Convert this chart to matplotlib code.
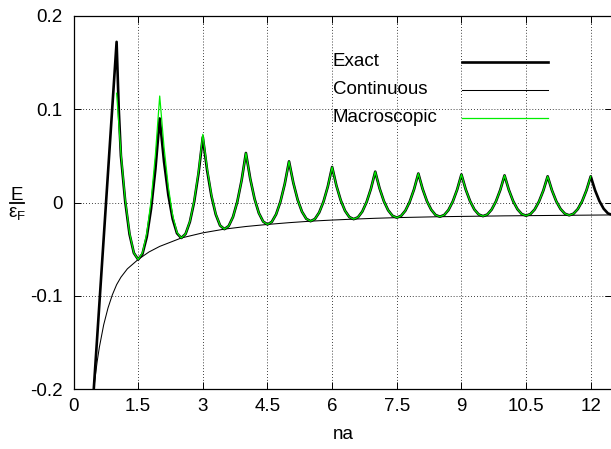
import numpy as np
import matplotlib
matplotlib.use('Agg')
import matplotlib.pyplot as plt
from matplotlib.lines import Line2D

plt.rcParams['font.family'] = ['Liberation Sans', 'DejaVu Sans']
plt.rcParams['mathtext.fontset'] = 'custom'
plt.rcParams['mathtext.rm'] = 'Liberation Sans'
plt.rcParams['mathtext.it'] = 'Liberation Sans'
plt.rcParams['mathtext.sf'] = 'Liberation Sans'

# ---------------- data ----------------
x_ticks = [0, 1.5, 3, 4.5, 6, 7.5, 9, 10.5, 12]
x_tick_labels = ["0", "1.5", "3", "4.5", "6", "7.5", "9", "10.5", "12"]
y_ticks = [-0.2, -0.1, 0, 0.1, 0.2]
y_tick_labels = ["-0.2", "-0.1", "0", "0.1", "0.2"]
series_names = ["Exact", "Continuous", "Macroscopic"]

# Continuous (smooth) curve
cont_x = [0.45, 0.5, 0.55, 0.6, 0.7, 0.8, 0.9, 1.0, 1.1, 1.25, 1.5, 1.75, 2.0,
          2.5, 3.0, 3.5, 4.0, 4.5, 5.0, 5.5, 6.0, 6.5, 7.0, 7.5, 8.0, 8.5,
          9.0, 9.5, 10.0, 10.5, 11.0, 11.5, 12.0, 12.5]
cont_y = [-0.208, -0.188, -0.170, -0.155, -0.131, -0.113, -0.099, -0.088,
          -0.080, -0.071, -0.061, -0.053, -0.047, -0.038, -0.0325, -0.0285,
          -0.0257, -0.0235, -0.0216, -0.0200, -0.0188, -0.0178, -0.0169,
          -0.0162, -0.0157, -0.0152, -0.0149, -0.0146, -0.0143, -0.0141,
          -0.0139, -0.0137, -0.0135, -0.0133]

# Macroscopic curve, sampled every 0.1 from na = 1.0 to 12.0
macro_y = [
    0.117, 0.0529, 0.0031, -0.0325, -0.0539, -0.061, -0.054, -0.033, 0.002, 0.051,
    0.114, 0.0593, 0.0167, -0.0137, -0.0319, -0.038, -0.0336, -0.0202, 0.0020, 0.0330,
    0.073, 0.0365, 0.0080, -0.0123, -0.0244, -0.0285, -0.0252, -0.0155, 0.0008, 0.0237,
    0.053, 0.0255, 0.0040, -0.0113, -0.0204, -0.0235, -0.0208, -0.0127, 0.0008, 0.0197,
    0.044, 0.0210, 0.0030, -0.0098, -0.0174, -0.0200, -0.0177, -0.0107, 0.0009, 0.0171,
    0.038, 0.0179, 0.0023, -0.0089, -0.0156, -0.0178, -0.0158, -0.0097, 0.0005, 0.0147,
    0.033, 0.0153, 0.0015, -0.0083, -0.0142, -0.0162, -0.0143, -0.0087, 0.0008, 0.0140,
    0.031, 0.0144, 0.0014, -0.0078, -0.0134, -0.0152, -0.0134, -0.0080, 0.0011, 0.0137,
    0.030, 0.0139, 0.0015, -0.0075, -0.0128, -0.0146, -0.0129, -0.0076, 0.0011, 0.0133,
    0.029, 0.0135, 0.0014, -0.0072, -0.0124, -0.0141, -0.0124, -0.0074, 0.0011, 0.0128,
    0.028, 0.0130, 0.0013, -0.0070, -0.0120, -0.0137, -0.0120, -0.0070, 0.0013, 0.0130,
    0.028]
macro_x = [round(1.0 + 0.1 * i, 2) for i in range(len(macro_y))]

# Exact curve: rising start, then sampled every 0.1 from na = 1.1 to 12.5
exact_head_x = [0.45, 1.0, 1.05]
exact_head_y = [-0.214, 0.172, 0.100]
exact_tail_y = [
    0.050, 0.001, -0.034, -0.054, -0.061, -0.0550, -0.0368, -0.0066, 0.0356,
    0.090, 0.0439, 0.0081, -0.0175, -0.0329, -0.038, -0.0337, -0.0207, 0.0009, 0.0311,
    0.070, 0.0345, 0.0070, -0.0127, -0.0246, -0.0285, -0.0252, -0.0155, 0.0008, 0.0237,
    0.053, 0.0255, 0.0040, -0.0113, -0.0204, -0.0235, -0.0208, -0.0127, 0.0008, 0.0197,
    0.044, 0.0210, 0.0030, -0.0098, -0.0174, -0.0200, -0.0177, -0.0107, 0.0009, 0.0171,
    0.038, 0.0179, 0.0023, -0.0089, -0.0156, -0.0178, -0.0158, -0.0097, 0.0005, 0.0147,
    0.033, 0.0153, 0.0015, -0.0083, -0.0142, -0.0162, -0.0143, -0.0087, 0.0008, 0.0140,
    0.031, 0.0144, 0.0014, -0.0078, -0.0134, -0.0152, -0.0134, -0.0080, 0.0011, 0.0137,
    0.030, 0.0139, 0.0015, -0.0075, -0.0128, -0.0146, -0.0129, -0.0076, 0.0011, 0.0133,
    0.029, 0.0135, 0.0014, -0.0072, -0.0124, -0.0141, -0.0124, -0.0074, 0.0011, 0.0128,
    0.028, 0.0130, 0.0013, -0.0070, -0.0120, -0.0137, -0.0120, -0.0070, 0.0013, 0.0130,
    0.028, 0.0131, 0.0016, -0.0067, -0.0117, -0.0133]
exact_x = exact_head_x + [round(1.1 + 0.1 * i, 2) for i in range(len(exact_tail_y))]
exact_y = exact_head_y + exact_tail_y

# ---------------- figure ----------------
W, H = 611, 449
FS = 13.5
fig = plt.figure(figsize=(W / 100, H / 100), dpi=100)
x0, x1 = 73.5, 612.3
ytop, ybot = 15.7, 389.3
ax = fig.add_axes([x0 / W, 1 - ybot / H, (x1 - x0) / W, (ybot - ytop) / H])

ax.set_xlim(0, 12.5)
ax.set_ylim(-0.2, 0.2)

ax.plot(exact_x, exact_y, color='black', lw=1.9, zorder=3)
ax.plot(cont_x, cont_y, color='black', lw=0.75, zorder=4)
ax.plot(macro_x, macro_y, color='#00ee00', lw=0.9, zorder=5)

ax.set_xticks(x_ticks)
ax.set_xticklabels(x_tick_labels)
ax.set_yticks(y_ticks)
ax.set_yticklabels(y_tick_labels)
ax.tick_params(direction='in', top=True, right=True, length=5, width=0.7,
               labelsize=FS, colors='black')
ax.tick_params(axis='x', pad=6.5)
ax.tick_params(axis='y', pad=8)
ax.grid(True, color='black', lw=0.6, linestyle=(0, (1, 2.5)))
for s in ax.spines.values():
    s.set_linewidth(0.9)

ax.set_xlabel('na', fontsize=FS, labelpad=8)

# y label drawn as a stacked fraction E / eps_F
fig.text(17 / W, 1 - 199.5 / H, 'E', fontsize=FS, ha='center', va='baseline')
fig.add_artist(Line2D([10 / W, 24 / W], [1 - 202.5 / H, 1 - 202.5 / H],
                      color='black', lw=1.3))
fig.text(17.5 / W, 1 - 204.5 / H, r'$\mathrm{ε}_{\mathrm{F}}$', fontsize=FS,
         ha='center', va='top')

# manual legend (gnuplot style: label left, sample on right)
rows = [62, 90, 118]
styles = [dict(color='black', lw=1.9), dict(color='black', lw=0.75),
          dict(color='#00ee00', lw=0.9)]
for name, ry, st in zip(series_names, rows, styles):
    fy = (ybot - ry) / (ybot - ytop)
    ax.text((333 - x0) / (x1 - x0), fy, name, transform=ax.transAxes,
            fontsize=FS, ha='left', va='center', zorder=6)
    ax.plot([(462 - x0) / (x1 - x0), (548 - x0) / (x1 - x0)], [fy, fy],
            transform=ax.transAxes, zorder=6, **st)

fig.savefig('out.png', dpi=100)
